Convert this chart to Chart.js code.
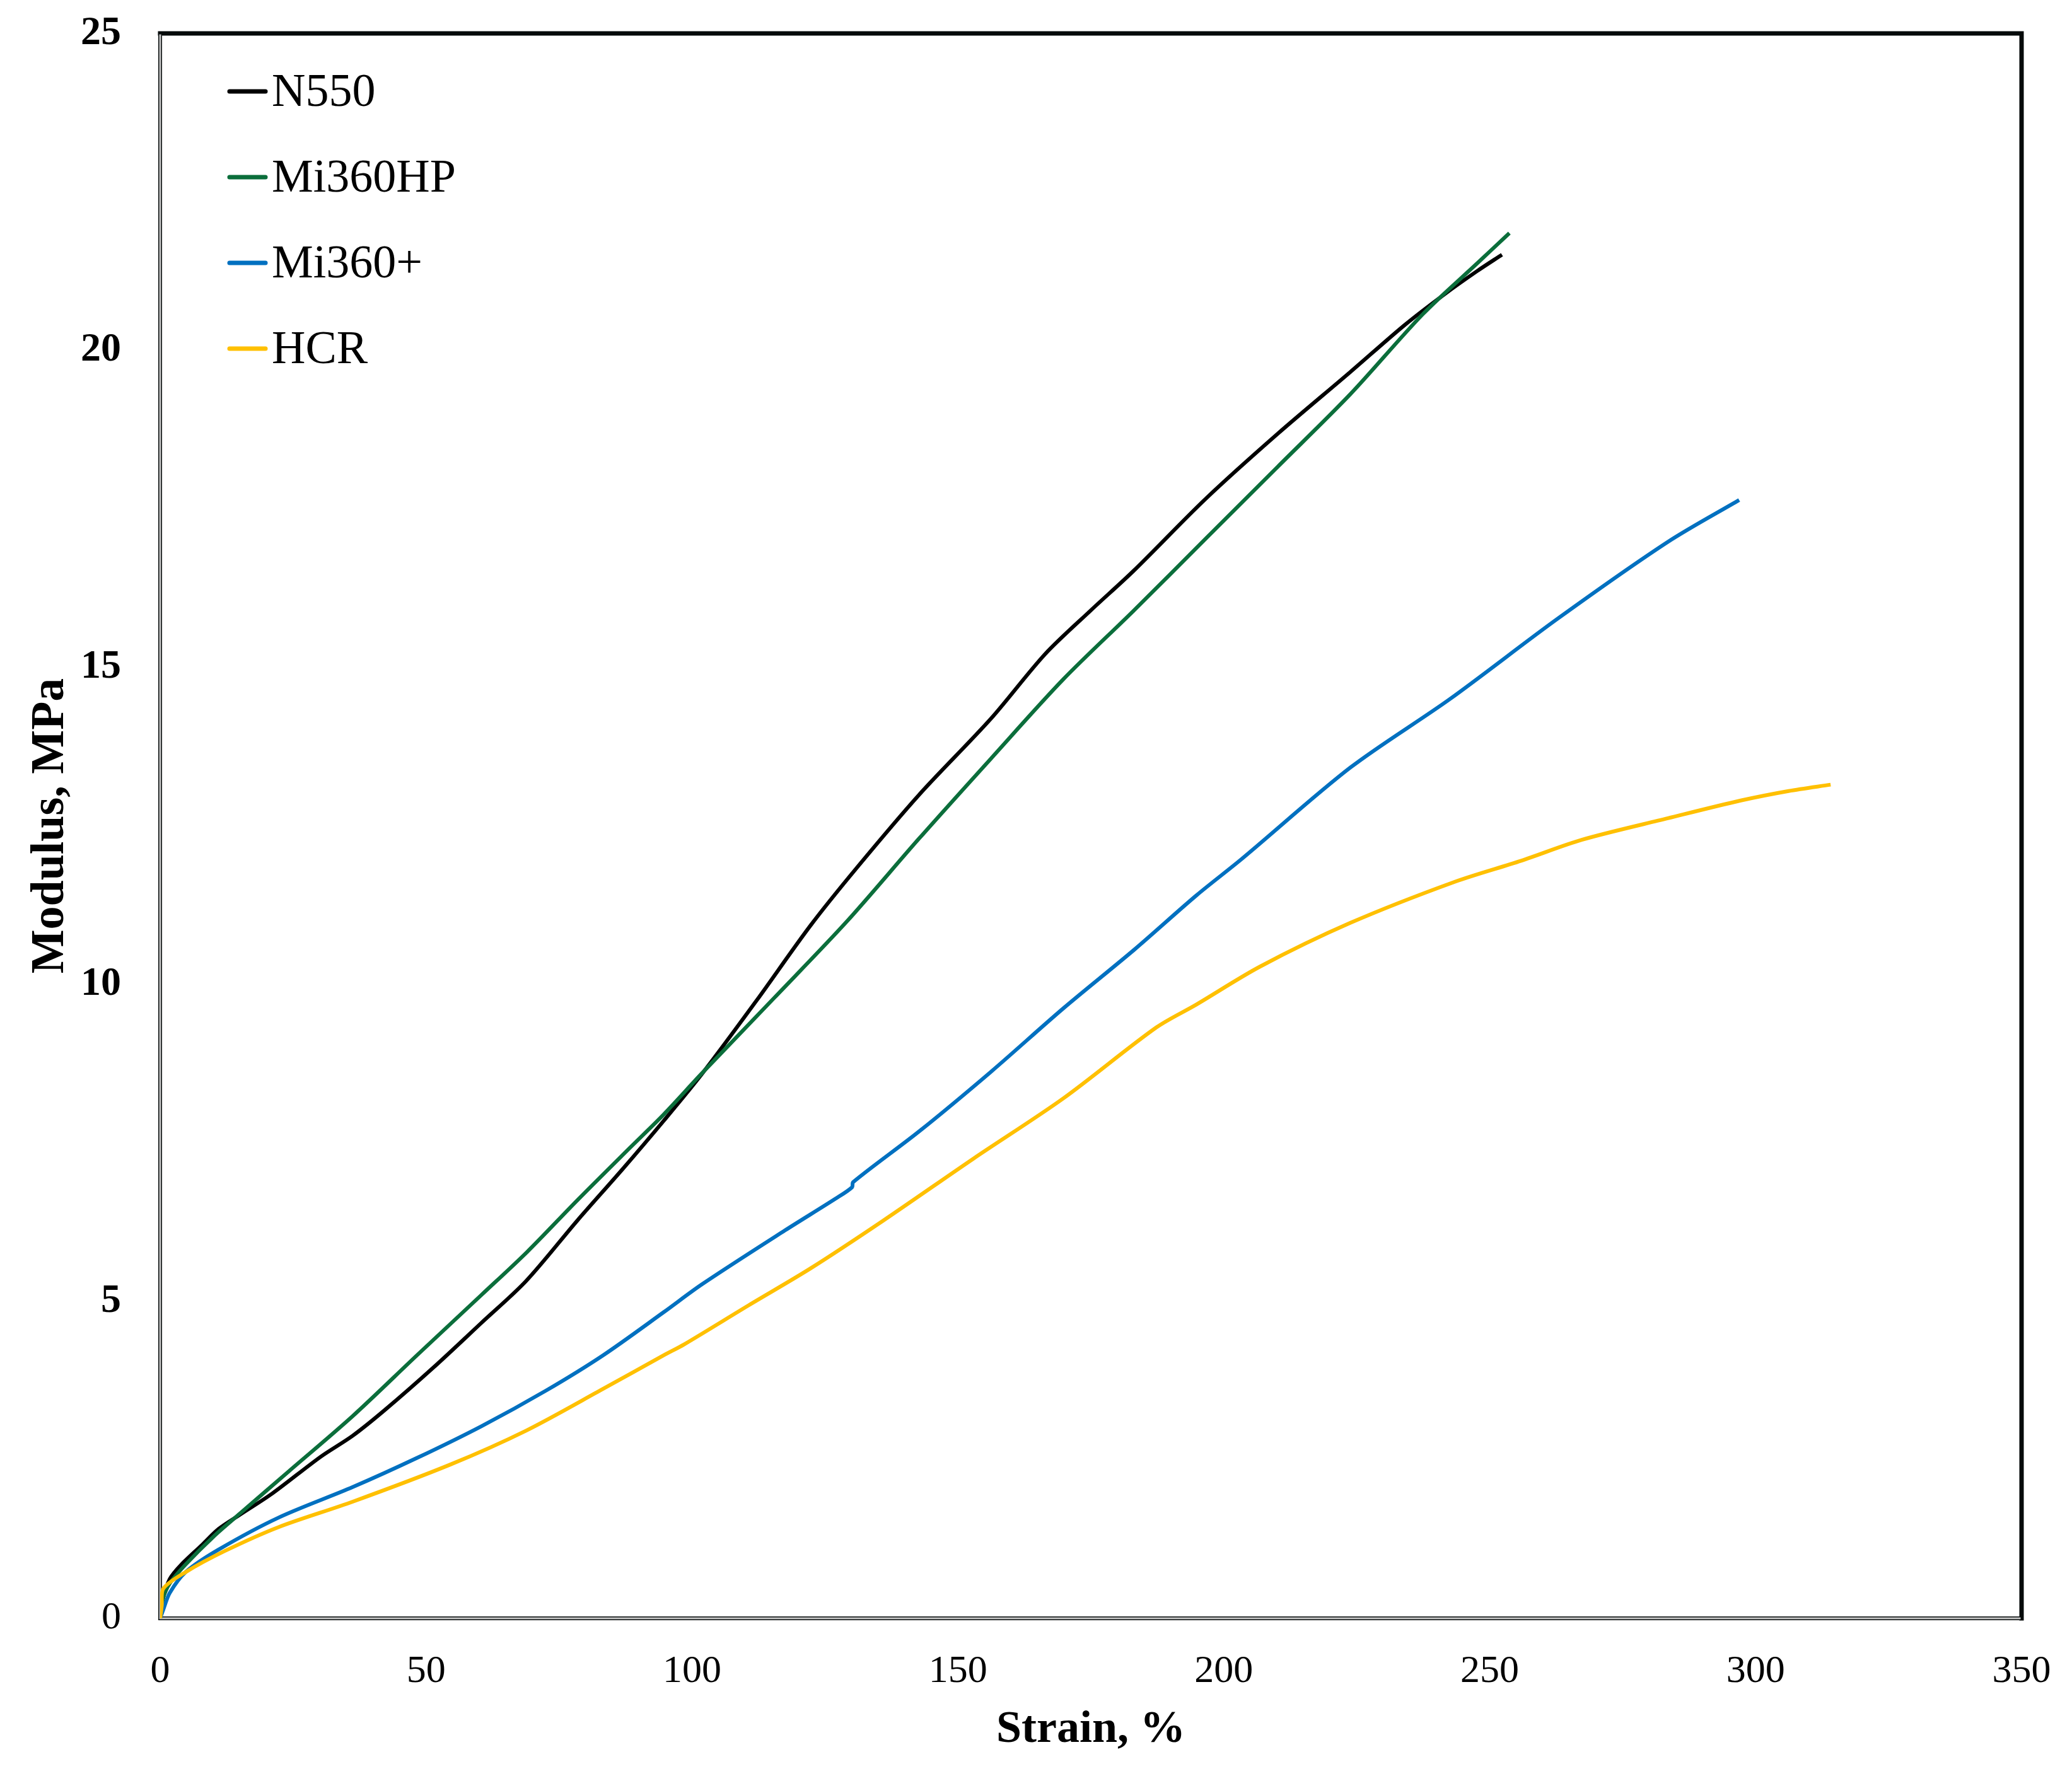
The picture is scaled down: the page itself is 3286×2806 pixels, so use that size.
<!DOCTYPE html>
<html>
<head>
<meta charset="utf-8">
<title>Modulus vs Strain</title>
<script src="https://cdn.jsdelivr.net/npm/chart.js@4/dist/chart.umd.min.js"></script>
<style>
  html, body { margin: 0; padding: 0; background: #ffffff; }
  #wrap { width: 3286px; height: 2806px; }
</style>
</head>
<body>
<div id="wrap"><canvas id="myChart" width="3286" height="2806"></canvas></div>
<script>
// series (strain %, modulus MPa)
const seriesNames = ['N550', 'Mi360HP', 'Mi360+', 'HCR'];
const seriesColors = ['#000000', '#0B6E3B', '#0070C0', '#FFC000'];

const n550Strain = [0, 0.5, 1.8, 4, 7.9, 11, 15.1, 21.1, 30.2, 36.2, 42.3, 51.3, 60.4, 68.8, 78.5, 87, 94.7, 101.9, 112.1, 122.3, 131.1, 142.7, 156.2, 166.4, 175, 183, 196.6, 210.2, 223.8, 234, 241.4, 247.6, 252.3];
const n550Modulus = [0, 0.3, 0.62, 0.85, 1.16, 1.41, 1.64, 1.97, 2.55, 2.88, 3.29, 3.95, 4.66, 5.32, 6.28, 7.09, 7.85, 8.59, 9.74, 10.93, 11.85, 12.99, 14.19, 15.21, 15.9, 16.52, 17.66, 18.69, 19.66, 20.4, 20.88, 21.25, 21.51];

const hpStrain = [0, 0.5, 1.8, 4.8, 10.3, 15.1, 24.2, 36.2, 48.3, 60.4, 69, 78.5, 88.3, 94.7, 101.9, 115.5, 129.1, 142.7, 156.2, 169.8, 183, 196.6, 210.2, 223.8, 237.4, 247.6, 253.7];
const hpModulus = [0, 0.3, 0.55, 0.85, 1.31, 1.66, 2.32, 3.19, 4.15, 5.1, 5.78, 6.6, 7.42, 7.95, 8.6, 9.79, 10.99, 12.3, 13.56, 14.81, 15.89, 17.03, 18.17, 19.31, 20.57, 21.37, 21.85];

const plusStrain = [0, 0.6, 1.8, 4.8, 10.9, 22.3, 36.2, 48.3, 60.4, 72.5, 83.3, 94.7, 101.9, 117.5, 127, 130.1, 130.3, 142.7, 156.2, 169.8, 183.2, 194.8, 203.4, 223.8, 242.5, 262.8, 283.5, 296.9];
const plusModulus = [0, 0.14, 0.4, 0.73, 1.08, 1.59, 2.07, 2.53, 3.03, 3.59, 4.15, 4.83, 5.27, 6.12, 6.62, 6.8, 6.88, 7.68, 8.62, 9.62, 10.55, 11.4, 11.98, 13.42, 14.5, 15.77, 16.98, 17.64];

const hcrStrain = [0, 0.3, 0.6, 4.8, 12.1, 22.3, 36.2, 54.4, 68.8, 83.3, 94.7, 98.5, 110.7, 122.3, 135.9, 152.9, 169.8, 187.3, 194.8, 206.8, 223.8, 243.5, 255.9, 267.3, 283.5, 297.2, 306.2, 314.1];
const hcrModulus = [0, 0.2, 0.47, 0.73, 1.06, 1.44, 1.84, 2.42, 2.96, 3.62, 4.15, 4.32, 4.94, 5.52, 6.27, 7.25, 8.2, 9.32, 9.68, 10.28, 10.97, 11.62, 11.95, 12.28, 12.62, 12.9, 13.05, 13.15];

const xTicks = [0, 50, 100, 150, 200, 250, 300, 350];
const yTicks = [0, 5, 10, 15, 20, 25];

const FONT = '"Liberation Serif", "Times New Roman", serif';

function toPoints(xs, ys) {
    return xs.map((x, i) => ({ x: x, y: ys[i] }));
}

const allStrain = [n550Strain, hpStrain, plusStrain, hcrStrain];
const allModulus = [n550Modulus, hpModulus, plusModulus, hcrModulus];

const datasets = seriesNames.map((name, i) => ({
    label: name,
    data: toPoints(allStrain[i], allModulus[i]),
    borderColor: seriesColors[i],
    backgroundColor: seriesColors[i],
    borderWidth: 6,
    borderJoinStyle: 'round',
    pointRadius: 0,
    showLine: true,
    fill: false,
    tension: 0.3,
    order: seriesNames.length - i // later series on top, like the original
}));

// frame: black top/right, grey-with-black-edge left/bottom
const framePlugin = {
    id: 'frame',
    beforeDatasetsDraw(chart) {
        const { ctx, chartArea: a } = chart;
        ctx.save();
        ctx.lineCap = 'square';
        ctx.strokeStyle = '#050a0a';
        ctx.lineWidth = 7;
        ctx.beginPath();
        ctx.moveTo(a.left, a.top);
        ctx.lineTo(a.right, a.top);
        ctx.lineTo(a.right, a.bottom);
        ctx.stroke();
        ctx.lineWidth = 6;
        ctx.beginPath();
        ctx.moveTo(a.left, a.top);
        ctx.lineTo(a.left, a.bottom);
        ctx.lineTo(a.right, a.bottom);
        ctx.stroke();
        ctx.strokeStyle = '#c3c3c3';
        ctx.lineWidth = 3;
        ctx.beginPath();
        ctx.moveTo(a.left, a.top + 3);
        ctx.lineTo(a.left, a.bottom);
        ctx.lineTo(a.right - 3, a.bottom);
        ctx.stroke();
        ctx.restore();
    }
};

// legend sits inside the plot, top left
const legendPlugin = {
    id: 'insideLegend',
    afterDraw(chart) {
        const { ctx, chartArea: a } = chart;
        ctx.save();
        chart.data.datasets.forEach((ds, i) => {
            const y = a.top + 92 + i * 136;
            ctx.strokeStyle = ds.borderColor;
            ctx.lineWidth = 7;
            ctx.lineCap = 'round';
            ctx.beginPath();
            ctx.moveTo(a.left + 110, y);
            ctx.lineTo(a.left + 167, y);
            ctx.stroke();
            ctx.fillStyle = '#000000';
            ctx.font = '74px ' + FONT;
            ctx.textBaseline = 'alphabetic';
            ctx.textAlign = 'left';
            ctx.fillText(ds.label, a.left + 177, y + 23);
        });
        ctx.restore();
    }
};

const ctx = document.getElementById('myChart').getContext('2d');
const chart = new Chart(ctx, {
    type: 'scatter',
    data: { datasets: datasets },
    options: {
        responsive: false,
        animation: false,
        devicePixelRatio: 1,
        layout: { padding: { top: 53, right: 80, left: 0, bottom: 0 } },
        plugins: {
            legend: { display: false },
            tooltip: { enabled: false }
        },
        scales: {
            x: {
                type: 'linear',
                min: 0,
                max: 350,
                afterBuildTicks: (scale) => { scale.ticks = xTicks.map(v => ({ value: v })); },
                afterFit: (scale) => {
                    scale.height = 239;
                    scale.paddingLeft = 0;
                    scale.paddingRight = 0;
                },
                grid: { display: false, drawTicks: false },
                border: { display: false },
                ticks: {
                    color: '#000000',
                    padding: 48,
                    maxRotation: 0,
                    font: { family: FONT, size: 62 }
                },
                title: {
                    display: true,
                    text: 'Strain, %',
                    color: '#000000',
                    font: { family: FONT, size: 72, weight: 'bold' },
                    padding: { top: 0, bottom: 18 }
                }
            },
            y: {
                type: 'linear',
                min: 0,
                max: 25,
                afterBuildTicks: (scale) => { scale.ticks = yTicks.map(v => ({ value: v })); },
                afterFit: (scale) => {
                    scale.width = 254;
                    scale.paddingTop = 0;
                    scale.paddingBottom = 0;
                },
                grid: { display: false, drawTicks: false },
                border: { display: false },
                ticks: {
                    color: '#000000',
                    padding: 62,
                    font: (c) => (c.tick && c.tick.value === 0)
                        ? { family: FONT, size: 62 }
                        : { family: FONT, size: 64, weight: 'bold' }
                },
                title: {
                    display: true,
                    text: 'Modulus, MPa',
                    color: '#000000',
                    font: { family: FONT, size: 74, weight: 'bold' },
                    padding: { top: 36, bottom: 0 }
                }
            }
        }
    },
    plugins: [framePlugin, legendPlugin]
});
</script>
</body>
</html>
